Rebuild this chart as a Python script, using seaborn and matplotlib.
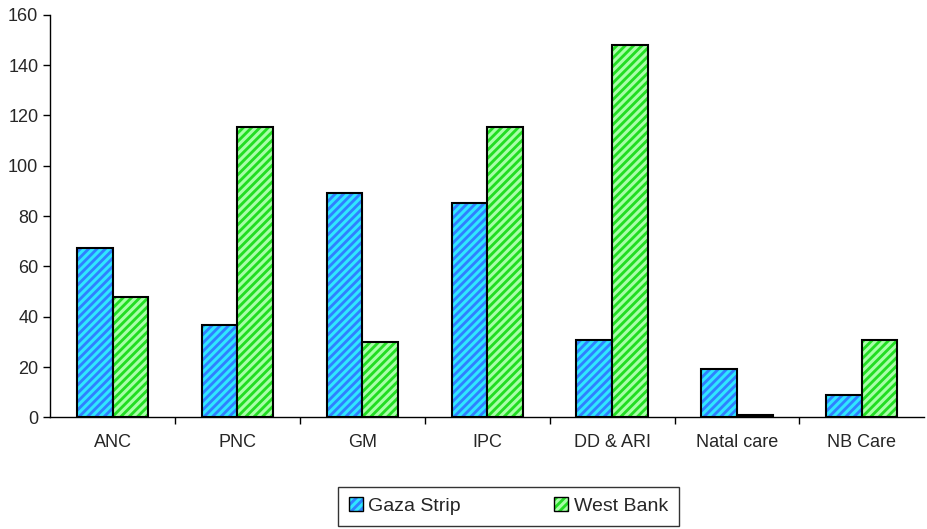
import pandas as pd
import matplotlib.pyplot as plt
import seaborn as sns
from matplotlib.colors import to_rgba
from matplotlib.patches import Patch
from matplotlib.ticker import FixedLocator

categories = ["ANC", "PNC", "GM", "IPC", "DD & ARI", "Natal care", "NB Care"]
gaza = [67.3, 36.8, 89, 85.2, 30.8, 19.3, 9]
west_bank = [47.8, 115.6, 30, 115.6, 148, 0.8, 30.6]
series = ["Gaza Strip", "West Bank"]

face = {"Gaza Strip": "#2f80ff", "West Bank": "#22dd22"}
stripe = {"Gaza Strip": "#30e6ff", "West Bank": "#a8ffa8"}

df = pd.DataFrame({
    "category": categories * 2,
    "value": gaza + west_bank,
    "series": ["Gaza Strip"] * len(gaza) + ["West Bank"] * len(west_bank),
})

sns.set_style("white")
plt.rcParams["font.family"] = ["Liberation Sans", "DejaVu Sans"]
plt.rcParams["hatch.linewidth"] = 2.2

fig = plt.figure(figsize=(9.28, 5.29), dpi=100)
ax = fig.add_axes([0.054, 0.211, 0.942, 0.761])

sns.barplot(data=df, x="category", y="value", hue="series", order=categories,
            hue_order=series, palette=face, width=0.57, ax=ax, legend=False,
            saturation=1)

# striped fill with black outline
n = len(categories)
for i, p in enumerate(ax.patches[:2 * n]):
    s = series[i // n]
    p.set_hatch("////")
    p.set_edgecolor("black")
    p.set_linewidth(1.5)
    p._hatch_color = to_rgba(stripe[s])

ax.set_ylim(0, 160)
ax.set_xlim(-0.5, n - 0.5)
ax.set_yticks(range(0, 161, 20))
ax.set_xlabel("")
ax.set_ylabel("")
ax.tick_params(axis="x", length=0, labelsize=13, pad=12)
ax.tick_params(axis="y", length=5, width=1, labelsize=13, color="black", left=True)
ax.xaxis.set_minor_locator(FixedLocator([i + 0.5 for i in range(n - 1)]))
ax.tick_params(axis="x", which="minor", length=5, width=1, color="black", bottom=True)
for side in ["top", "right"]:
    ax.spines[side].set_visible(False)
for side in ["left", "bottom"]:
    ax.spines[side].set_color("black")
    ax.spines[side].set_linewidth(1)

handles = []
for s in series:
    h = Patch(facecolor=face[s], edgecolor="black", hatch="////", linewidth=1)
    h._hatch_color = to_rgba(stripe[s])
    handles.append(h)
leg = fig.legend(handles, series, loc="center", bbox_to_anchor=(0.548, 0.043),
                 ncol=2, fontsize=14, frameon=True, fancybox=False,
                 edgecolor="black", handlelength=0.7, handleheight=0.7,
                 handletextpad=0.3, columnspacing=4.8, borderpad=0.55,
                 borderaxespad=0)
leg.get_frame().set_linewidth(1)

plt.savefig("out.png", dpi=100)
plt.close()
